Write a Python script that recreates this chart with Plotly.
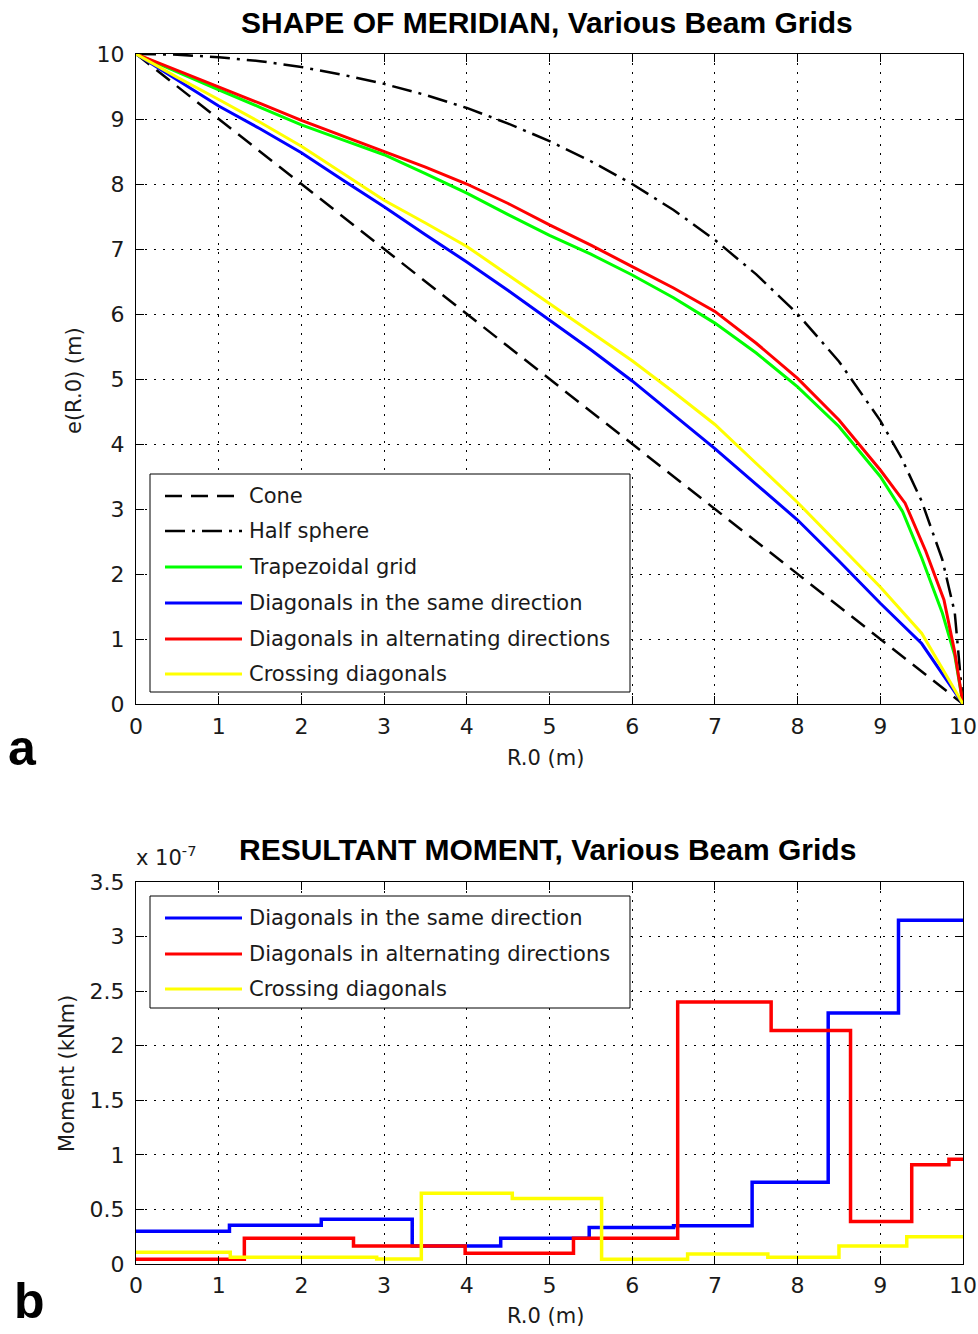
import plotly.graph_objects as go

# ---------------- data: meridian shapes (radius R.0 in m, height e in m) ----------------
cone_r = [0, 1, 2, 3, 4, 5, 6, 7, 8, 9, 10]
cone_e = [10, 9, 8, 7, 6, 5, 4, 3, 2, 1, 0]

sphere_r = [0, 0.5, 1, 1.5, 2, 2.5, 3, 3.5, 4, 4.5, 5, 5.5, 6, 6.5, 7, 7.5, 8, 8.5,
            9, 9.25, 9.5, 9.75, 9.9, 10]
sphere_e = [10, 9.99, 9.95, 9.89, 9.80, 9.68, 9.54, 9.37, 9.17, 8.93, 8.66, 8.35, 8.0,
            7.60, 7.14, 6.61, 6.0, 5.27, 4.36, 3.80, 3.12, 2.22, 1.41, 0]

trap_r = [0, 0.5, 1, 1.5, 2, 2.5, 3, 3.5, 4, 4.5, 5, 5.5, 6, 6.5, 7, 7.5, 8, 8.5,
          9, 9.27, 9.5, 9.75, 9.9, 10]
trap_e = [10, 9.72, 9.45, 9.18, 8.91, 8.68, 8.45, 8.16, 7.86, 7.53, 7.21, 6.92, 6.6,
          6.25, 5.86, 5.4, 4.88, 4.27, 3.5, 2.96, 2.25, 1.4, 0.75, 0]

alt_r = [0, 0.5, 1, 1.5, 2, 2.5, 3, 3.5, 4, 4.5, 5, 5.5, 6, 6.5, 7, 7.5, 8, 8.5,
         9, 9.3, 9.55, 9.77, 9.9, 10]
alt_e = [10, 9.75, 9.5, 9.24, 8.98, 8.74, 8.5, 8.26, 8.0, 7.7, 7.37, 7.06, 6.73,
         6.4, 6.04, 5.55, 5.01, 4.37, 3.6, 3.09, 2.35, 1.6, 0.8, 0]

same_r = [0, 0.5, 1, 1.5, 2, 2.5, 3, 3.5, 4, 4.5, 5, 5.5, 6, 6.5, 7, 7.5, 8, 8.5,
          9, 9.5, 10]
same_e = [10, 9.6, 9.2, 8.85, 8.48, 8.06, 7.65, 7.22, 6.8, 6.36, 5.91, 5.45, 4.97,
          4.45, 3.93, 3.38, 2.83, 2.2, 1.55, 0.93, 0]

cross_r = [0, 0.5, 1, 1.5, 2, 2.5, 3, 3.5, 4, 4.5, 5, 5.5, 6, 6.5, 7, 7.5, 8, 8.5,
           9, 9.5, 10]
cross_e = [10, 9.64, 9.3, 8.95, 8.58, 8.16, 7.75, 7.4, 7.04, 6.6, 6.16, 5.73, 5.28,
           4.8, 4.3, 3.7, 3.1, 2.45, 1.8, 1.09, 0]

# ---------------- data: resultant moment (units of 1e-7 kNm), step-wise ----------------
mom_same_r = [0, 1.13, 2.24, 3.34, 4.41, 5.48, 6.5, 7.45, 8.37, 9.22, 10]
mom_same_v = [0.30, 0.355, 0.41, 0.165, 0.235, 0.335, 0.35, 0.75, 2.30, 3.15, 3.15]

mom_alt_r = [0, 1.31, 2.63, 3.98, 5.29, 6.55, 7.68, 8.64, 9.38, 9.83, 10]
mom_alt_v = [0.043, 0.235, 0.165, 0.098, 0.235, 2.40, 2.14, 0.39, 0.91, 0.96, 0.96]

mom_cross_r = [0, 1.14, 2.91, 3.45, 4.55, 5.63, 6.67, 7.64, 8.5, 9.32, 10]
mom_cross_v = [0.107, 0.061, 0.045, 0.648, 0.60, 0.043, 0.092, 0.061, 0.165, 0.25, 0.25]

top_labels = ["Cone", "Half sphere", "Trapezoidal grid", "Diagonals in the same direction",
              "Diagonals in alternating directions", "Crossing diagonals"]
bottom_labels = ["Diagonals in the same direction", "Diagonals in alternating directions",
                 "Crossing diagonals"]

# ---------------- layout helpers ----------------
W, H = 978, 1334
ML, MR = 136, 15


def fx(p):
    return (p - ML) / (W - ML - MR)


def fy(p):
    return 1 - p / H


BLUE, RED, YELLOW, GREEN = "#0000ff", "#ff0000", "#ffff00", "#00ff00"
DASH = "17px,9px"
DASHDOT = "20px,7px,3px,7px"
TXT = "#1a1a1a"
BODY = "DejaVu Sans"
BOLD = "Liberation Sans"

fig = go.Figure()

top = dict(xaxis="x", yaxis="y", mode="lines", showlegend=False, hoverinfo="skip")
fig.add_trace(go.Scatter(x=cone_r, y=cone_e, line=dict(color="black", width=2.5, dash=DASH), **top))
fig.add_trace(go.Scatter(x=sphere_r, y=sphere_e, line=dict(color="black", width=2.5, dash=DASHDOT), **top))
fig.add_trace(go.Scatter(x=trap_r, y=trap_e, line=dict(color=GREEN, width=3), **top))
fig.add_trace(go.Scatter(x=same_r, y=same_e, line=dict(color=BLUE, width=3), **top))
fig.add_trace(go.Scatter(x=alt_r, y=alt_e, line=dict(color=RED, width=3), **top))
fig.add_trace(go.Scatter(x=cross_r, y=cross_e, line=dict(color=YELLOW, width=3), **top))

bot = dict(xaxis="x2", yaxis="y2", mode="lines", line_shape="hv", showlegend=False, hoverinfo="skip")
fig.add_trace(go.Scatter(x=mom_same_r, y=mom_same_v, line=dict(color=BLUE, width=3.5), **bot))
fig.add_trace(go.Scatter(x=mom_alt_r, y=mom_alt_v, line=dict(color=RED, width=3.5), **bot))
fig.add_trace(go.Scatter(x=mom_cross_r, y=mom_cross_v, line=dict(color=YELLOW, width=3.5), **bot))

axis_style = dict(
    showline=True, linecolor="black", linewidth=1, mirror="allticks",
    ticks="inside", ticklen=8, tickwidth=1, tickcolor="black",
    showgrid=True, gridcolor="black", gridwidth=1, griddash="2px,7px",
    zeroline=False, automargin=False,
    tickfont=dict(family=BODY, size=22, color=TXT),
)

fig.update_layout(
    width=W, height=H,
    margin=dict(l=ML, r=MR, t=0, b=0, autoexpand=False),
    paper_bgcolor="white", plot_bgcolor="white",
    xaxis=dict(domain=[0, 1], range=[0, 10], tickvals=list(range(11)), anchor="y",
               ticklabelstandoff=3, **axis_style),
    yaxis=dict(domain=[fy(704), fy(54)], range=[0, 10], tickvals=list(range(11)), anchor="x",
               ticklabelstandoff=6, **axis_style),
    xaxis2=dict(domain=[0, 1], range=[0, 10], tickvals=list(range(11)), anchor="y2",
                ticklabelstandoff=2, **axis_style),
    yaxis2=dict(domain=[fy(1264), fy(882)], range=[0, 3.5],
                tickvals=[0, 0.5, 1, 1.5, 2, 2.5, 3, 3.5],
                ticktext=["0", "0.5", "1", "1.5", "2", "2.5", "3", "3.5"],
                anchor="x2", ticklabelstandoff=6, **axis_style),
)

ann = []


def text(x, y, s, size=21, family=BODY, xanchor="center", yanchor="middle", angle=0, color=TXT):
    ann.append(dict(x=fx(x), y=fy(y), xref="paper", yref="paper", text=s, showarrow=False,
                    xanchor=xanchor, yanchor=yanchor, textangle=angle,
                    font=dict(family=family, size=size, color=color)))


# titles
text(547, 22, "<b>SHAPE OF MERIDIAN, Various Beam Grids</b>", size=30, family=BOLD, color="black")
text(547, 850, "<b>RESULTANT MOMENT, Various Beam Grids</b>", size=30, family=BOLD, color="black")
# axis titles
text(545, 758, "R.0 (m)")
text(545, 1316, "R.0 (m)")
text(74, 381, "e(R.0) (m)", angle=-90)
text(67, 1074, "Moment (kNm)", angle=-90)
# exponent
text(134, 872, "x 10<sup>-7</sup>", xanchor="left", yanchor="bottom", size=21)
# panel letters
text(6, 778, "<b>a</b>", size=50, family=BOLD, xanchor="left", yanchor="bottom", color="black")
text(12, 1331, "<b>b</b>", size=50, family=BOLD, xanchor="left", yanchor="bottom", color="black")

shapes = []

# legend of the meridian panel
shapes.append(dict(type="rect", xref="paper", yref="paper", x0=fx(150), x1=fx(630), y0=fy(692), y1=fy(474),
                   line=dict(color="black", width=1), fillcolor="white", layer="above"))
top_rows = [496, 531, 567, 603, 639, 674]
top_styles = [("black", DASH), ("black", DASHDOT), (GREEN, "solid"), (BLUE, "solid"), (RED, "solid"), (YELLOW, "solid")]
for yy, lab, (col, dsh) in zip(top_rows, top_labels, top_styles):
    shapes.append(dict(type="line", xref="paper", yref="paper", x0=fx(165), x1=fx(242), y0=fy(yy), y1=fy(yy),
                       line=dict(color=col, width=3 if dsh == "solid" else 2.5, dash=dsh), layer="above"))
    text(247, yy, lab, xanchor="left")

# legend of the moment panel
shapes.append(dict(type="rect", xref="paper", yref="paper", x0=fx(150), x1=fx(630), y0=fy(1008), y1=fy(896),
                   line=dict(color="black", width=1), fillcolor="white", layer="above"))
bot_rows = [918, 954, 989]
for yy, lab, col in zip(bot_rows, bottom_labels, [BLUE, RED, YELLOW]):
    shapes.append(dict(type="line", xref="paper", yref="paper", x0=fx(165), x1=fx(242), y0=fy(yy), y1=fy(yy),
                       line=dict(color=col, width=3), layer="above"))
    text(247, yy, lab, xanchor="left")

fig.update_layout(annotations=ann, shapes=shapes)
fig.write_html("out.html")
